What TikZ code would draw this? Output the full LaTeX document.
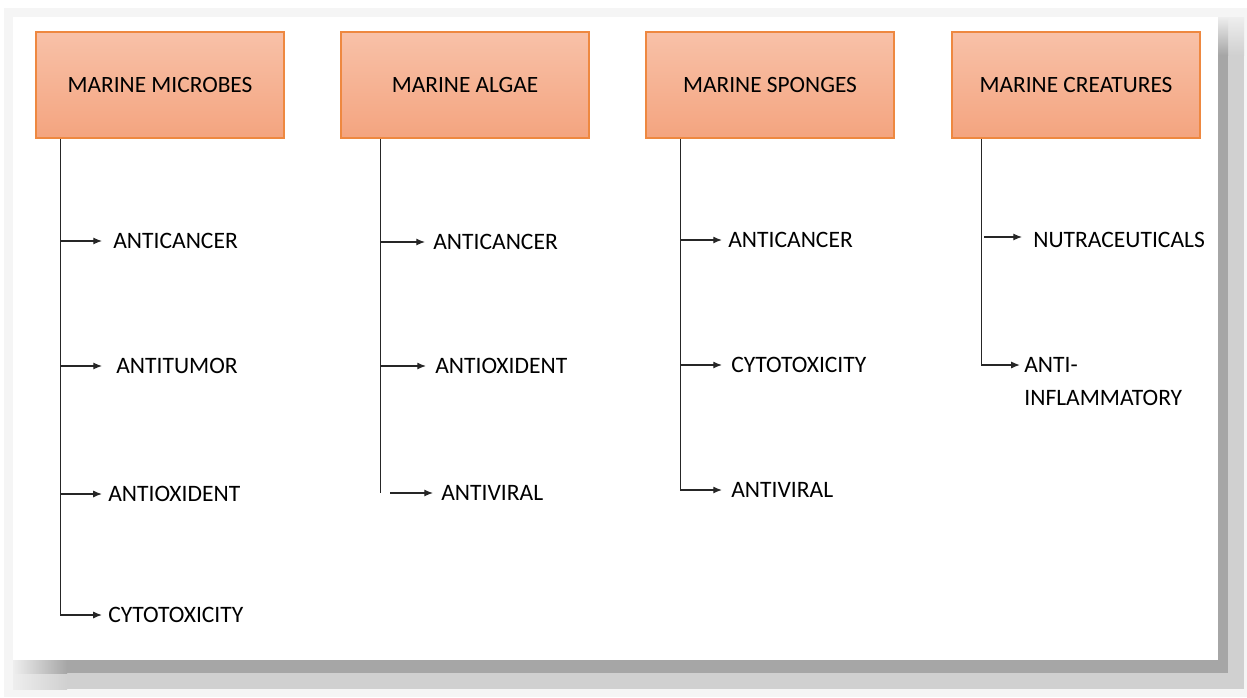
\documentclass[tikz,border=0pt]{standalone}
\usepackage{fontspec}
\setmainfont{Carlito}
\usepackage{tikz}
\usetikzlibrary{positioning}
\usetikzlibrary{calc,arrows.meta}

\definecolor{boxtop}{HTML}{F8C1A8}
\definecolor{boxbot}{HTML}{F4A47F}
\definecolor{boxline}{HTML}{EE8840}
\definecolor{shadowA}{HTML}{EEEEEE}
\definecolor{shadowB}{HTML}{D0D0D0}
\definecolor{shadowC}{HTML}{A6A6A6}

\tikzset{
	groupbox/.style={rectangle, draw=boxline, line width=0.8pt, top color=boxtop, bottom color=boxbot,
		minimum width=4.96cm, minimum height=2.12cm, inner sep=0pt,
		font=\fontsize{13.3}{16}\selectfont, text=black},
	effectlabel/.style={anchor=west, inner sep=0pt, align=left,
		font=\fontsize{13.4}{18.7}\selectfont, text=black},
	stem/.style={draw=black!85, line width=0.75pt},
	branch/.style={stem, -{Latex[length=5pt,width=4pt]}, shorten >=#1},
	branch/.default=5pt
}

\begin{document}
\begin{tikzpicture}[x=0.02cm, y=-0.02cm]

	% Proper size --- Bounding box
	\useasboundingbox (0,0) rectangle (1247,697);

	% ------------------------------------------------
	% PANEL WITH ITS SHADOW
	% ------------------------------------------------
	\fill[shadowA!60] (4,8) rectangle (1247,697);
	% bottom bands, faded at the left end
	\fill[left color=shadowA, right color=shadowB] (13,673) rectangle (67,689);
	\fill[shadowB] (67,673) rectangle (1244,689);
	\fill[left color=shadowA, right color=shadowC] (13,660) rectangle (67,673);
	\fill[shadowC] (67,660) rectangle (1228,673);
	% right bands, faded at the top end
	\fill[top color=shadowA, bottom color=shadowB] (1228,17) rectangle (1244,55);
	\fill[shadowB] (1228,55) rectangle (1244,673);
	\fill[top color=shadowA, bottom color=shadowC] (1218,17) rectangle (1228,55);
	\fill[shadowC] (1218,55) rectangle (1228,660);
	\fill[white] (13,17) rectangle (1218,660);

	% Source boxes
	\node[groupbox] (M1) at (160,85) {MARINE MICROBES};
	\node[groupbox] (M2) at (465,85) {MARINE ALGAE};
	\node[groupbox] (M3) at (770,85) {MARINE SPONGES};
	\node[groupbox] (M4) at (1076,85) {MARINE CREATURES};

	% Stems start under the boxes
	\coordinate (V1) at ($(M1.south west)+(25,0)$);
	\coordinate (V2) at ($(M2.south west)+(40,0)$);
	\coordinate (V3) at ($(M3.south west)+(35,0)$);
	\coordinate (V4) at ($(M4.south west)+(30,0)$);

	% Effects
	\node[effectlabel] (L11) at (113,241) {ANTICANCER};
	\node[effectlabel] (L12) at (116,366) {ANTITUMOR};
	\node[effectlabel] (L13) at (108,494) {ANTIOXIDENT};
	\node[effectlabel] (L14) at (108,615) {CYTOTOXICITY};

	\node[effectlabel] (L21) at (433,242) {ANTICANCER};
	\node[effectlabel] (L22) at (435,366) {ANTIOXIDENT};
	\node[effectlabel] (L23) at (441,493) {ANTIVIRAL};

	\node[effectlabel] (L31) at (728,240) {ANTICANCER};
	\node[effectlabel] (L32) at (731,365) {CYTOTOXICITY};
	\node[effectlabel] (L33) at (731,490) {ANTIVIRAL};

	\node[effectlabel] (L41) at (1033,240) {NUTRACEUTICALS};
	\node[effectlabel, anchor=north west] (L42) at (1024,357) {ANTI-\\INFLAMMATORY};
	\coordinate (L42a) at ($(L42.north west)+(0,8)$);

	% Column 1
	\draw[stem] (V1) -- (V1 |- L14);
	\draw[branch=6.2pt] (V1 |- L11) -- (L11.west);
	\draw[branch=7.9pt] (V1 |- L12) -- (L12.west);
	\draw[branch=3.4pt] (V1 |- L13) -- (L13.west);
	\draw[branch=3.4pt] (V1 |- L14) -- (L14.west);

	% Column 2
	\draw[stem] (V2) -- (V2 |- L23);
	\draw[branch=4.5pt] (V2 |- L21) -- (L21.west);
	\draw[branch=5.1pt] (V2 |- L22) -- (L22.west);
	\draw[branch=4.5pt] ($(V2 |- L23)+(10,0)$) -- (L23.west);

	% Column 3
	\draw[stem] (V3) -- (V3 |- L33);
	\draw[branch=3.4pt] (V3 |- L31) -- (L31.west);
	\draw[branch=5.1pt] (V3 |- L32) -- (L32.west);
	\draw[branch=5.1pt] (V3 |- L33) -- (L33.west);

	% Column 4
	\draw[stem] (V4) -- (V4 |- L42a);
	\draw[branch=6.2pt] ($(V4 |- L41)+(3,-3)$) -- ($(L41.west)+(0,-3)$);
	\draw[branch=2.3pt] (V4 |- L42a) -- (L42a);

\end{tikzpicture}
\end{document}
